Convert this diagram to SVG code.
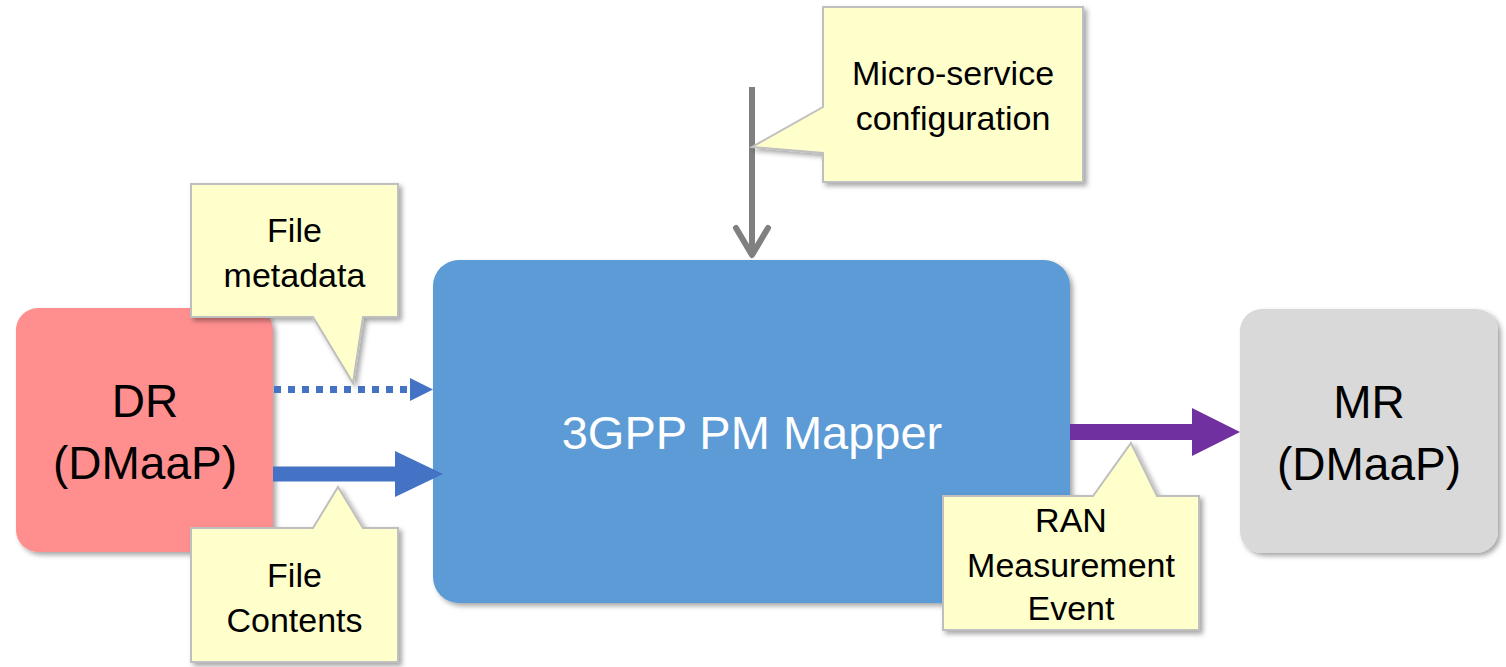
<svg xmlns="http://www.w3.org/2000/svg" width="1506" height="667" viewBox="0 0 1506 667">
<defs>
<filter id="sh" x="-10%" y="-10%" width="130%" height="130%">
<feDropShadow dx="3" dy="3" stdDeviation="2.5" flood-color="#000" flood-opacity="0.35"/>
</filter>
</defs>
<style>
.lbl{font-family:"Liberation Sans",Arial,sans-serif;text-anchor:middle;fill:#000}
.big{font-size:46px}
.call{font-size:34px}
.callout{fill:#FFFFCC;stroke:#BFBFBF;stroke-width:2;filter:url(#sh)}
</style>
<rect width="1506" height="667" fill="#fff"/>
<g id="dr">
<rect x="16" y="308" width="257" height="244" rx="22" fill="#FF8F8F" filter="url(#sh)"/>
<text class="lbl big" x="145" y="417">DR</text>
<text class="lbl big" x="145" y="479">(DMaaP)</text>
</g>
<g id="mapper">
<rect x="433" y="260" width="637" height="343" rx="26" fill="#5B9BD5" filter="url(#sh)"/>
<text class="lbl" x="752" y="449" style="font-size:47px;fill:#fff">3GPP PM Mapper</text>
</g>
<g id="mr">
<rect x="1240" y="309" width="258" height="244" rx="22" fill="#D9D9D9" filter="url(#sh)"/>
<text class="lbl big" x="1369" y="418">MR</text>
<text class="lbl big" x="1369" y="480">(DMaaP)</text>
</g>
<g id="connectors">
<line x1="274" y1="389.5" x2="410" y2="389.5" stroke="#4472C4" stroke-width="7" stroke-dasharray="7 7"/>
<polygon points="410,378 433,389.5 410,401" fill="#4472C4"/>
<line x1="273" y1="474" x2="396" y2="474" stroke="#4472C4" stroke-width="15"/>
<polygon points="395,451 443,474 395,497" fill="#4472C4"/>
<line x1="1070" y1="432" x2="1193" y2="432" stroke="#7030A0" stroke-width="16"/>
<polygon points="1192,408 1240,432 1192,456" fill="#7030A0"/>
<line x1="752" y1="87" x2="752" y2="254" stroke="#808080" stroke-width="6"/>
<polyline points="736,228 752,255 768,228" fill="none" stroke="#808080" stroke-width="6" stroke-linecap="round" stroke-linejoin="round"/>
</g>
<g id="callout-metadata">
<path class="callout" d="M191,184 H398 V317 H363 L353,383 L313,317 H191 Z"/>
<text class="lbl call" x="294.5" y="242">File</text>
<text class="lbl call" x="294.5" y="287">metadata</text>
</g>
<g id="callout-contents">
<path class="callout" d="M191,528 H313 L338,487 L363,528 H398 V662 H191 Z"/>
<text class="lbl call" x="294.5" y="587">File</text>
<text class="lbl call" x="294.5" y="632">Contents</text>
</g>
<g id="callout-config">
<path class="callout" d="M823,7 H1083 V182 H823 V153 L752,147 L823,107 Z"/>
<text class="lbl call" x="953" y="85">Micro-service</text>
<text class="lbl call" x="953" y="130">configuration</text>
</g>
<g id="callout-ran">
<path class="callout" d="M943,496 H1093 L1131,443 L1157,496 H1199 V630 H943 Z"/>
<text class="lbl call" x="1071" y="532">RAN</text>
<text class="lbl call" x="1071" y="577">Measurement</text>
<text class="lbl call" x="1071" y="620">Event</text>
</g>
</svg>
